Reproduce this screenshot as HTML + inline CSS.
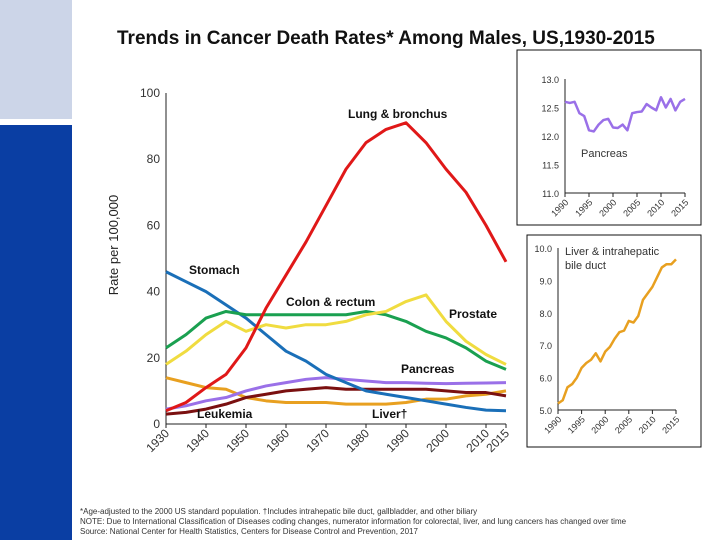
<!DOCTYPE html>
<html><head><meta charset="utf-8"><style>
html,body{margin:0;padding:0;background:#fff;width:720px;height:540px;overflow:hidden;font-family:"Liberation Sans",sans-serif}
</style></head><body>
<svg id="s" width="720" height="540" xmlns="http://www.w3.org/2000/svg" font-family="Liberation Sans, sans-serif">
<rect x="0" y="0" width="72" height="119" fill="#ccd5e8"/>
<rect x="0" y="125" width="72" height="415" fill="#0a3ea3"/>
<text x="117" y="44" font-size="19" font-weight="bold" fill="#111">Trends in Cancer Death Rates* Among Males, US,1930-2015</text>
<text transform="translate(118,245) rotate(-90)" text-anchor="middle" font-size="13" fill="#222">Rate per 100,000</text>
<g id="main"></g>
<rect x="517" y="50" width="184" height="175" fill="none" stroke="#111" stroke-width="1"/>
<g id="in1"></g>
<rect x="527" y="235" width="174" height="212" fill="none" stroke="#111" stroke-width="1"/>
<g id="in2"></g>
<g font-size="8" fill="#333">
<text x="80" y="514">*Age-adjusted to the 2000 US standard population. †Includes intrahepatic bile duct, gallbladder, and other biliary</text>
<text x="80" y="524">NOTE: Due to International Classification of Diseases coding changes, numerator information for colorectal, liver, and lung cancers has changed over time</text>
<text x="80" y="534">Source: National Center for Health Statistics, Centers for Disease Control and Prevention, 2017</text>
</g>
</svg>
<script>
const years=[1930,1935,1940,1945,1950,1955,1960,1965,1970,1975,1980,1985,1990,1995,2000,2005,2010,2015];
const lung=[4,6.5,11,15,23,35,45,55,66,77,85,89,91,85,77,70,60,49];
const stomach=[46,43,40,36,32,27,22,19,15,12.5,10,9,8,7,6,5,4.2,4];
const colon=[23,27,32,34,33,33,33,33,33,33,34,33,31,28,26,23,19,16.5];
const prostate=[18,22,27,31,28,30,29,30,30,31,33,34,37,39,31,25,21,18];
const pancreas=[4.5,5.5,7,8,10,11.5,12.5,13.5,14,13.5,13,12.5,12.5,12.3,12.2,12.3,12.4,12.5];
const leukemia=[3,3.5,4.5,6,8,9,10,10.5,11,10.5,10.5,10.5,10.5,10.5,10,9.5,9.5,8.5];
const liver=[14,12.5,11,10.5,8,7,6.5,6.5,6.5,6,6,6,6.5,7.5,7.5,8.5,9,10];
const yTicks=[0,20,40,60,80,100];
const xTicks=[1930,1940,1950,1960,1970,1980,1990,2000,2010,2015];
const insetYears=[1990,1991,1992,1993,1994,1995,1996,1997,1998,1999,2000,2001,2002,2003,2004,2005,2006,2007,2008,2009,2010,2011,2012,2013,2014,2015];
const pancInset=[12.6,12.58,12.6,12.4,12.35,12.1,12.08,12.2,12.28,12.3,12.15,12.14,12.2,12.1,12.4,12.42,12.43,12.56,12.5,12.45,12.68,12.5,12.65,12.45,12.6,12.65];
const liverInset=[5.2,5.3,5.7,5.8,6.0,6.3,6.45,6.55,6.75,6.5,6.8,6.95,7.2,7.4,7.45,7.75,7.7,7.9,8.4,8.6,8.8,9.1,9.4,9.5,9.5,9.65];
const pTicks=[11.0,11.5,12.0,12.5,13.0];
const lTicks=[5.0,6.0,7.0,8.0,9.0,10.0];
const iXTicks=[1990,1995,2000,2005,2010,2015];
const NS='http://www.w3.org/2000/svg';
function mk(p,t,a){const e=document.createElementNS(NS,t);for(const k in a)e.setAttribute(k,a[k]);p.appendChild(e);return e;}
function axes(g,x0,x1,y0,y1,xmin,xmax,ymin,ymax,xt,yt,dec,fs){
  const X=v=>x0+(v-xmin)/(xmax-xmin)*(x1-x0);
  const Y=v=>y0-(v-ymin)/(ymax-ymin)*(y0-y1);
  let e=mk(g,'line',{x1:x0,y1:y0,x2:x1,y2:y0,stroke:'#222'});
  
  
  e=mk(g,'line',{x1:x0,y1:y0,x2:x0,y2:y1,stroke:'#222'});
  
  
  yt.forEach(v=>{const t=mk(g,'text',{x:x0-6,y:Y(v)+4,'text-anchor':'end','font-size':fs,fill:'#333'});t.textContent=v.toFixed(dec);
    
    });
  xt.forEach(v=>{mk(g,'line',{x1:X(v),y1:y0,x2:X(v),y2:y0+4,stroke:'#222'});
    const t=mk(g,'text',{transform:`translate(${X(v)+4},${y0+10}) rotate(-45)`,'text-anchor':'end','font-size':fs,fill:'#333'});t.textContent=v;
    
    });
  return [X,Y];
}
function line(g,X,Y,xs,ys,c,w,name){
  const e=mk(g,'polyline',{points:xs.map((x,i)=>X(x)+','+Y(ys[i])).join(' '),fill:'none',stroke:c,'stroke-width':w,'stroke-linejoin':'round'});
  
  
}
const m=document.getElementById('main');
const [X,Y]=axes(m,166,506,424,93,1930,2015,0,100,xTicks,yTicks,0,12);
line(m,X,Y,years,liver,'#e8a020',3,'liver-line');
line(m,X,Y,years,leukemia,'#7a1010',3,'leukemia-line');
line(m,X,Y,years,pancreas,'#9a70e8',3,'pancreas-line');
line(m,X,Y,years,stomach,'#1a6fb8',3,'stomach-line');
line(m,X,Y,years,colon,'#1aa050',3,'colon-rectum-line');
line(m,X,Y,years,prostate,'#f0dc40',3,'prostate-line');
line(m,X,Y,years,lung,'#e01818',3,'lung-bronchus-line');
[['Lung & bronchus',348,118,'label-lung'],['Stomach',189,274,'label-stomach'],['Colon & rectum',286,306,'label-colon'],['Prostate',449,318,'label-prostate'],['Pancreas',401,373,'label-pancreas'],['Leukemia',197,418,'label-leukemia'],['Liver†',372,418,'label-liver']].forEach(l=>{
  const t=mk(m,'text',{x:l[1],y:l[2],'font-size':12,'font-weight':'bold',fill:'#111'});t.textContent=l[0];
  
  });
const g1=document.getElementById('in1');
const [X1,Y1]=axes(g1,565,685,193,79,1990,2015,11,13,iXTicks,pTicks,1,9);
line(g1,X1,Y1,insetYears,pancInset,'#9a70e8',2.5,'pancreas-inset-line');
let t=mk(g1,'text',{x:581,y:157,'font-size':11,fill:'#333'});t.textContent='Pancreas';


const g2=document.getElementById('in2');
const [X2,Y2]=axes(g2,558,676,410,248,1990,2015,5,10,iXTicks,lTicks,1,9);
line(g2,X2,Y2,insetYears,liverInset,'#e8a020',2.5,'liver-inset-line');
t=mk(g2,'text',{x:565,y:255,'font-size':11,fill:'#333'});t.textContent='Liver & intrahepatic';


t=mk(g2,'text',{x:565,y:269,'font-size':11,fill:'#333'});t.textContent='bile duct';


</script>
</body></html>
